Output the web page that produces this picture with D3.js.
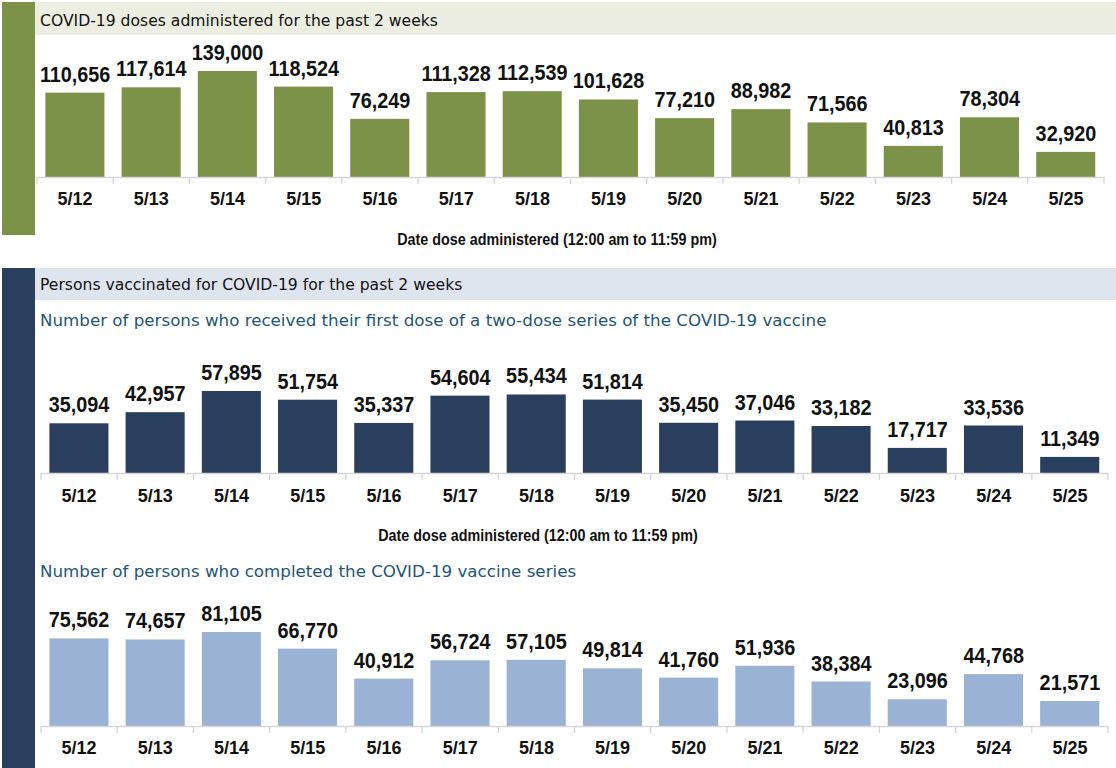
<!DOCTYPE html>
<html><head><meta charset="utf-8">
<script src="https://cdn.jsdelivr.net/npm/d3@7"></script>
<style>
html,body{margin:0;padding:0;background:#fff;}
svg{display:block;}
</style></head>
<body><svg id="c" width="1116" height="768"></svg>
<script>
const dates = ["5/12","5/13","5/14","5/15","5/16","5/17","5/18","5/19","5/20","5/21","5/22","5/23","5/24","5/25"];
const dosesAdministered = [110656,117614,139000,118524,76249,111328,112539,101628,77210,88982,71566,40813,78304,32920];
const firstDose = [35094,42957,57895,51754,35337,54604,55434,51814,35450,37046,33182,17717,33536,11349];
const completedSeries = [75562,74657,81105,66770,40912,56724,57105,49814,41760,51936,38384,23096,44768,21571];
const title1 = "COVID-19 doses administered for the past 2 weeks";
const title2 = "Persons vaccinated for COVID-19 for the past 2 weeks";
const sub1 = "Number of persons who received their first dose of a two-dose series of the COVID-19 vaccine";
const sub2 = "Number of persons who completed the COVID-19 vaccine series";
const axisTitle = "Date dose administered (12:00 am to 11:59 pm)";

const svg = d3.select("#c");
const hdrFont = "'DejaVu Sans', Verdana, sans-serif";
const numFont = "'Liberation Sans', Arial, sans-serif";
const tickFont = "'Liberation Sans', Arial, sans-serif";

// side bars & header bands
svg.append("rect").attr("x",2).attr("y",2).attr("width",33).attr("height",233).attr("fill","#7b9248");
svg.append("rect").attr("x",35).attr("y",2).attr("width",1081).attr("height",33).attr("fill","#ebeee0");
svg.append("text").attr("x",40).attr("y",25.5).attr("font-family",hdrFont).attr("font-size",15.6).attr("fill","#111").text(title1);

svg.append("rect").attr("x",2).attr("y",268).attr("width",33).attr("height",500).attr("fill","#2a3f5e");
svg.append("rect").attr("x",35).attr("y",268).attr("width",1081).attr("height",32).attr("fill","#dee5ef");
svg.append("text").attr("x",40).attr("y",289.5).attr("font-family",hdrFont).attr("font-size",15.6).attr("fill","#111").text(title2);

svg.append("text").attr("x",40).attr("y",326).attr("font-family",hdrFont).attr("font-size",16.7).attr("fill","#1e5677").text(sub1);
svg.append("text").attr("x",40).attr("y",577).attr("font-family",hdrFont).attr("font-size",16.7).attr("fill","#1e5677").text(sub2);

function panel(values, opts){
  const x = d3.scaleBand().domain(dates).range([opts.x0, opts.x1]).padding(0);
  const y = d3.scaleLinear().domain([0, d3.max(values)]).range([opts.base, opts.base - opts.h]);
  const g = svg.append("g");
  const bw = x.bandwidth();
  const data = dates.map((d,i)=>({d, v: values[i]}));
  g.selectAll("rect.bar").data(data).join("rect").attr("class","bar")
    .attr("x", d => x(d.d) + bw*0.11).attr("width", bw*0.775)
    .attr("y", d => y(d.v)).attr("height", d => y(0) - y(d.v))
    .attr("fill", opts.color);
  g.selectAll("text.val").data(data).join("text").attr("class","val")
    .attr("transform", d => `translate(${x(d.d) + bw/2},${y(d.v) - 11}) scale(0.88,1)`)
    .attr("text-anchor","middle").attr("font-family",numFont).attr("font-weight","bold")
    .attr("font-size",22.5).attr("fill","#111").text(d => d3.format(",")(d.v));
  // axis
  const ax = g.append("g").attr("transform",`translate(0,${opts.base})`)
    .call(d3.axisBottom(x).tickSize(0).tickSizeOuter(0).tickPadding(opts.tp));
  ax.select(".domain").attr("stroke","#d6d6d6").attr("stroke-width",1.3);
  ax.selectAll(".tick text").attr("font-family",tickFont).attr("font-weight","bold").attr("font-size",18).attr("fill","#111");
  const bounds = dates.map(d => x(d)).concat([opts.x1]);
  g.selectAll("line.bt").data(bounds).join("line").attr("class","bt")
    .attr("x1", d=>d).attr("x2", d=>d).attr("y1", opts.base).attr("y2", opts.base+7)
    .attr("stroke","#d6d6d6").attr("stroke-width",1.3);
  if (opts.title){
    g.append("text").attr("transform",`translate(${opts.tx},${opts.base+68}) scale(0.88,1)`)
      .attr("text-anchor","middle").attr("font-family",numFont).attr("font-weight","bold")
      .attr("font-size",16.3).attr("fill","#111").text(axisTitle);
  }
}
panel(dosesAdministered, {x0:37, x1:1104, base:177, h:106, color:"#7b9248", title:true, tx:557, tp:15});
panel(firstDose, {x0:41, x1:1108, base:473, h:82, color:"#2a3f5e", title:true, tx:538, tp:16});
panel(completedSeries, {x0:41, x1:1108, base:726, h:94, color:"#9ab2d4", title:false, tp:15});
</script></body></html>
